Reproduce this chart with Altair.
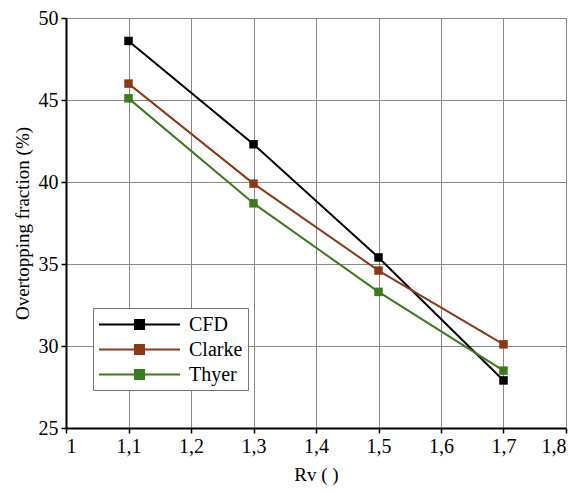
import altair as alt
import pandas as pd

rv = [1.1, 1.3, 1.5, 1.7]
cfd = [48.6, 42.3, 35.4, 27.9]
clarke = [46.0, 39.9, 34.6, 30.1]
thyer = [45.1, 38.7, 33.3, 28.5]
series = ["CFD", "Clarke", "Thyer"]
colors = ["#000000", "#8B3A14", "#3C7A1C"]
x_ticks = [1.0, 1.1, 1.2, 1.3, 1.4, 1.5, 1.6, 1.7, 1.8]
y_ticks = [25, 30, 35, 40, 45, 50]

rows = []
for name, vals in zip(series, [cfd, clarke, thyer]):
    for x, y in zip(rv, vals):
        rows.append({"Rv": x, "val": y, "series": name})
df = pd.DataFrame(rows)

font = "Liberation Serif"
sym = "M-4,0H4M-0.45,-0.45H0.45V0.45H-0.45Z"

color = alt.Color(
    "series:N",
    scale=alt.Scale(domain=series, range=colors),
    sort=series,
    legend=alt.Legend(
        title=None,
        orient="none",
        legendX=27,
        legendY=290,
        symbolType=sym,
        symbolSize=410,
        symbolStrokeWidth=2,
        symbolOffset=30,
        labelFont=font,
        labelFontSize=20,
        labelColor="black",
        labelOffset=38,
        strokeColor="#777777",
        padding=5,
        rowPadding=3,
        fillColor="white",
    ),
)

base = alt.Chart(df).encode(
    x=alt.X(
        "Rv:Q",
        scale=alt.Scale(domain=[1.0, 1.8], nice=False, zero=False),
        axis=alt.Axis(
            values=x_ticks,
            labelExpr="replace(format(datum.value, '.1~f'), '.', ',')",
            title="Rv ( )",
        ),
    ),
    y=alt.Y(
        "val:Q",
        scale=alt.Scale(domain=[25, 50], nice=False, zero=False),
        axis=alt.Axis(values=y_ticks, title="Overtopping fraction (%)"),
    ),
    color=color,
)

lines = base.mark_line(strokeWidth=2)
points = base.mark_point(shape="square", filled=True, size=72, opacity=1)

chart = (
    alt.layer(lines, points)
    .properties(width=500, height=410, padding={"top": 0, "left": 5, "right": 5, "bottom": 5})
    .configure_view(stroke="#888888", strokeWidth=1)
    .configure_axis(
        labelFont=font,
        titleFont=font,
        labelFontSize=20,
        titleFontSize=19,
        titleFontWeight="normal",
        labelColor="black",
        titleColor="black",
        domainColor="black",
        domainWidth=2,
        tickColor="black",
        tickWidth=1.5,
        tickSize=5,
        gridColor="#888888",
        gridWidth=1,
        gridOpacity=1,
        labelPadding=3,
    )
    .configure_axisX(titlePadding=9)
    .configure_axisY(titlePadding=6)
)

chart.save("out.html", embed_options={"renderer": "svg", "actions": False})
